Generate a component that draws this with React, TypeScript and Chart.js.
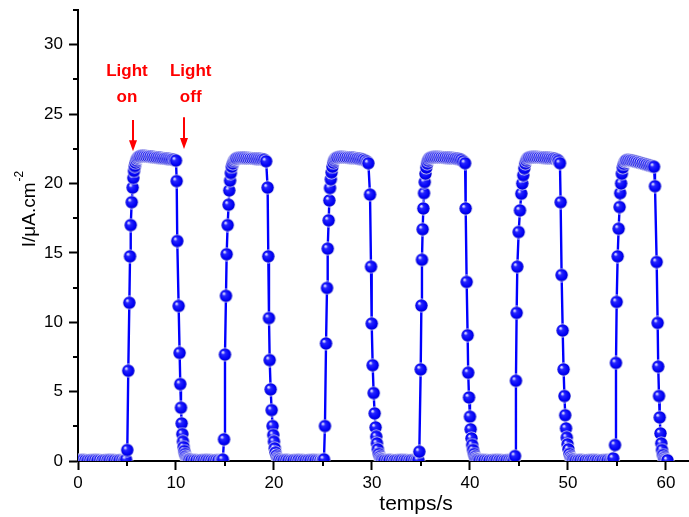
import { useEffect, useRef } from 'react';
import { Chart, registerables } from 'chart.js';

Chart.register(...registerables);

// Axis ranges and ticks
const xRange = [0, 62.35];
const yRange = [0, 32.5];
const xTicks = [0, 10, 20, 30, 40, 50, 60];
const xMinorTicks = [5, 15, 25, 35, 45, 55];
const yTicks = [0, 5, 10, 15, 20, 25, 30];
const yMinorTicks = [2.5, 7.5, 12.5, 17.5, 22.5, 27.5, 32.5];

// Photocurrent under chopped illumination: [time (s), current (µA/cm²)]
const cycle1: number[][] = [
  [0, 0.05], [0.25, 0.05], [0.5, 0.06], [0.75, 0.05], [1, 0.04], [1.25, 0.05], [1.5, 0.05], [1.75, 0.06],
  [2, 0.05], [2.25, 0.05], [2.5, 0.04], [2.75, 0.05], [3, 0.05], [3.25, 0.06], [3.5, 0.05], [3.75, 0.05],
  [4, 0.04], [4.25, 0.05], [4.5, 0.05], [4.75, 0.06],
  [4.9, 0.1], [5.03, 0.79], [5.13, 6.5], [5.24, 11.4], [5.31, 14.75], [5.38, 17.0], [5.48, 18.65], [5.58, 19.7],
  [5.65, 20.4], [5.72, 20.9], [5.8, 21.25], [5.88, 21.5], [5.96, 21.68], [6.05, 21.8], [6.14, 21.88], [6.24, 21.94],
  [6.4, 21.97], [6.6, 21.98], [6.8, 21.97], [7.0, 21.96], [7.2, 21.94], [7.4, 21.93], [7.6, 21.91], [7.8, 21.89],
  [8.0, 21.87], [8.2, 21.86], [8.4, 21.84], [8.6, 21.82], [8.8, 21.8], [9.0, 21.79], [9.2, 21.77], [9.4, 21.75],
  [9.6, 21.73], [9.8, 21.7], [10.0, 21.65],
  [10.07, 20.17], [10.13, 15.85], [10.27, 11.17], [10.37, 7.79], [10.44, 5.54], [10.51, 3.84], [10.58, 2.71],
  [10.65, 1.94], [10.71, 1.39], [10.78, 1.0], [10.85, 0.72], [10.92, 0.5], [11.0, 0.34], [11.1, 0.22],
  [11.2, 0.15], [11.3, 0.1], [11.4, 0.08],
];

const cycle2: number[][] = [
  [11.6, 0.06], [11.85, 0.05], [12.1, 0.05], [12.35, 0.04], [12.6, 0.05], [12.85, 0.05], [13.1, 0.06],
  [13.35, 0.05], [13.6, 0.05], [13.85, 0.04], [14.1, 0.05], [14.35, 0.05], [14.6, 0.06],
  [14.78, 0.1], [14.9, 1.56], [15.0, 7.67], [15.1, 11.9], [15.17, 14.9], [15.27, 17.0], [15.37, 18.47],
  [15.44, 19.5], [15.52, 20.2], [15.6, 20.75], [15.7, 21.2], [15.8, 21.45], [15.9, 21.62], [16.0, 21.72],
  [16.1, 21.78], [16.2, 21.82],
  [16.4, 21.84], [16.6, 21.85], [16.8, 21.85], [17.0, 21.84], [17.2, 21.83], [17.4, 21.82], [17.6, 21.81],
  [17.8, 21.8], [18.0, 21.79], [18.2, 21.78], [18.4, 21.77], [18.6, 21.76], [18.8, 21.74], [19.0, 21.71],
  [19.2, 21.6],
  [19.35, 19.7], [19.42, 14.75], [19.49, 10.3], [19.56, 7.27], [19.66, 5.16], [19.76, 3.67], [19.86, 2.52],
  [19.93, 1.87], [20.0, 1.39], [20.08, 0.91], [20.16, 0.6], [20.25, 0.38], [20.35, 0.22], [20.45, 0.14],
  [20.55, 0.09],
];

const cycle3: number[][] = [
  [20.75, 0.05], [21.0, 0.05], [21.25, 0.06], [21.5, 0.05], [21.75, 0.04], [22.0, 0.05], [22.25, 0.05],
  [22.5, 0.06], [22.75, 0.05], [23.0, 0.05], [23.25, 0.04], [23.5, 0.05], [23.75, 0.05], [24.0, 0.06],
  [24.25, 0.05], [24.5, 0.05], [24.75, 0.05], [24.95, 0.06],
  [25.1, 0.12], [25.2, 2.52], [25.31, 8.47], [25.41, 12.47], [25.48, 15.3], [25.58, 17.34], [25.65, 18.78],
  [25.72, 19.67], [25.8, 20.3], [25.88, 20.8], [25.97, 21.2], [26.06, 21.5], [26.15, 21.68], [26.25, 21.78],
  [26.35, 21.84],
  [26.5, 21.88], [26.7, 21.9], [26.9, 21.9], [27.1, 21.89], [27.3, 21.88], [27.5, 21.87], [27.7, 21.86],
  [27.9, 21.85], [28.1, 21.84], [28.3, 21.82], [28.5, 21.8], [28.7, 21.78], [28.9, 21.75], [29.1, 21.72],
  [29.3, 21.66], [29.5, 21.56], [29.63, 21.46],
  [29.8, 19.2], [29.9, 14.0], [29.97, 9.9], [30.07, 6.9], [30.17, 4.9], [30.27, 3.43], [30.37, 2.42],
  [30.44, 1.75], [30.51, 1.27], [30.6, 0.84], [30.7, 0.5], [30.8, 0.3], [30.9, 0.18], [31.0, 0.12],
  [31.12, 0.08],
];

const cycle4: number[][] = [
  [31.3, 0.05], [31.55, 0.05], [31.8, 0.06], [32.05, 0.05], [32.3, 0.04], [32.55, 0.05], [32.8, 0.05],
  [33.05, 0.06], [33.3, 0.05], [33.55, 0.05], [33.8, 0.04], [34.05, 0.05], [34.3, 0.05], [34.55, 0.06],
  [34.73, 0.07], [34.83, 0.67], [34.97, 6.6], [35.04, 11.2], [35.1, 14.5], [35.17, 16.7], [35.24, 18.2],
  [35.31, 19.3], [35.38, 20.1], [35.46, 20.7], [35.55, 21.15], [35.64, 21.45], [35.73, 21.65], [35.83, 21.78],
  [35.93, 21.84],
  [36.1, 21.88], [36.3, 21.9], [36.5, 21.9], [36.7, 21.9], [36.9, 21.89], [37.1, 21.88], [37.3, 21.87],
  [37.5, 21.86], [37.7, 21.85], [37.9, 21.84], [38.1, 21.83], [38.3, 21.82], [38.5, 21.8], [38.7, 21.78],
  [38.9, 21.75], [39.1, 21.7], [39.3, 21.6], [39.5, 21.46],
  [39.56, 18.2], [39.66, 12.9], [39.76, 9.06], [39.82, 6.36], [39.9, 4.58], [40.0, 3.19], [40.07, 2.28],
  [40.15, 1.63], [40.23, 1.15], [40.32, 0.79], [40.42, 0.5], [40.52, 0.3], [40.62, 0.18], [40.72, 0.12],
  [40.82, 0.08],
];

const cycle5: number[][] = [
  [41.0, 0.05], [41.25, 0.06], [41.5, 0.05], [41.75, 0.05], [42.0, 0.04], [42.25, 0.05], [42.5, 0.05],
  [42.75, 0.06], [43.0, 0.05], [43.25, 0.05], [43.5, 0.04], [43.75, 0.05], [44.0, 0.05], [44.25, 0.06],
  [44.45, 0.05],
  [44.6, 0.36], [44.69, 5.78], [44.76, 10.67], [44.83, 14.0], [44.97, 16.5], [45.1, 18.06], [45.24, 19.26],
  [45.34, 20.0], [45.44, 20.6], [45.55, 21.1], [45.65, 21.45], [45.75, 21.65], [45.85, 21.78], [45.95, 21.85],
  [46.1, 21.88], [46.3, 21.9], [46.5, 21.9], [46.7, 21.9], [46.9, 21.89], [47.1, 21.88], [47.3, 21.87],
  [47.5, 21.86], [47.7, 21.85], [47.9, 21.84], [48.1, 21.83], [48.3, 21.82], [48.5, 21.8], [48.7, 21.77],
  [48.9, 21.72], [49.05, 21.62], [49.18, 21.46],
  [49.25, 18.65], [49.35, 13.4], [49.46, 9.4], [49.55, 6.6], [49.64, 4.68], [49.72, 3.3], [49.8, 2.35],
  [49.88, 1.68], [49.96, 1.2], [50.05, 0.84], [50.15, 0.5], [50.25, 0.3], [50.35, 0.19], [50.45, 0.12],
  [50.6, 0.08],
];

const cycle6: number[][] = [
  [50.8, 0.05], [51.05, 0.05], [51.3, 0.06], [51.55, 0.05], [51.8, 0.04], [52.05, 0.05], [52.3, 0.05],
  [52.55, 0.06], [52.8, 0.05], [53.05, 0.05], [53.3, 0.04], [53.55, 0.05], [53.8, 0.05], [54.05, 0.06],
  [54.3, 0.05], [54.5, 0.05],
  [54.62, 0.19], [54.8, 1.15], [54.9, 7.07], [54.97, 11.46], [55.07, 14.75], [55.17, 16.74], [55.27, 18.3],
  [55.33, 19.3], [55.42, 20.0], [55.5, 20.7], [55.6, 21.15], [55.7, 21.42], [55.8, 21.58], [55.9, 21.65],
  [56.0, 21.68],
  [56.2, 21.68], [56.4, 21.66], [56.6, 21.63], [56.8, 21.6], [57.0, 21.56], [57.2, 21.52], [57.4, 21.48],
  [57.6, 21.44], [57.8, 21.4], [58.0, 21.36], [58.2, 21.32], [58.4, 21.28], [58.6, 21.24], [58.78, 21.2],
  [58.88, 19.8], [59.05, 14.34], [59.15, 9.95], [59.21, 6.8], [59.29, 4.68], [59.36, 3.14], [59.44, 1.99],
  [59.52, 1.27], [59.6, 0.79], [59.7, 0.43], [59.8, 0.22], [59.9, 0.12], [60.02, 0.07], [60.15, 0.05],
];

// "Light on" / "Light off" annotations
const noteLines = [['Light', 'on'], ['Light', 'off']];
const noteTextTimes = [5.0, 11.5];
const noteTextLevels = [27.74, 25.86];
const arrowTimes = [5.61, 10.82];
const arrowTails = [24.57, 24.78];
const arrowTips = [22.33, 22.48];

const FONT = '"Liberation Sans", Arial, Helvetica, sans-serif';

// Shaded ball marker
function makeSphere(r: number): HTMLCanvasElement {
  const size = Math.ceil(2 * r + 2);
  const c = document.createElement('canvas');
  c.width = size;
  c.height = size;
  const g = c.getContext('2d')!;
  const cx = size / 2;
  const cy = size / 2;
  g.beginPath();
  g.arc(cx, cy, r + 0.8, 0, Math.PI * 2);
  g.fillStyle = 'rgba(255,255,255,0.85)';
  g.fill();
  const grad = g.createRadialGradient(cx - r * 0.4, cy - r * 0.42, 0, cx, cy, r);
  grad.addColorStop(0, '#ffffff');
  grad.addColorStop(0.13, '#c8c8ff');
  grad.addColorStop(0.32, '#2626ff');
  grad.addColorStop(0.82, '#0000f4');
  grad.addColorStop(1, '#0000c4');
  g.beginPath();
  g.arc(cx, cy, r, 0, Math.PI * 2);
  g.fillStyle = grad;
  g.fill();
  return c;
}

const overlay = {
  id: 'overlay',
  afterDraw(chart: any) {
    const { ctx, scales } = chart;
    const x = scales.x;
    const y = scales.y;
    ctx.save();

    // minor ticks
    ctx.strokeStyle = '#000';
    ctx.lineWidth = 2;
    ctx.beginPath();
    xMinorTicks.forEach((v) => {
      const px = Math.round(x.getPixelForValue(v));
      ctx.moveTo(px, y.bottom);
      ctx.lineTo(px, y.bottom + 5);
    });
    yMinorTicks.forEach((v) => {
      const py = Math.round(y.getPixelForValue(v));
      ctx.moveTo(x.left - 5, py);
      ctx.lineTo(x.left, py);
    });
    ctx.stroke();

    // axis titles
    ctx.fillStyle = '#000';
    ctx.textBaseline = 'alphabetic';
    ctx.textAlign = 'center';
    ctx.font = `21px ${FONT}`;
    ctx.fillText('temps/s', x.getPixelForValue(34.5), y.bottom + 49);

    ctx.save();
    ctx.translate(x.left - 43, y.getPixelForValue(15.4));
    ctx.rotate(-Math.PI / 2);
    ctx.textAlign = 'left';
    ctx.font = `19px ${FONT}`;
    const main = 'I/μA.cm';
    ctx.fillText(main, 0, 0);
    const w = ctx.measureText(main).width;
    ctx.font = `12px ${FONT}`;
    ctx.fillText('-2', w + 1, -12);
    ctx.restore();

    // annotations
    ctx.fillStyle = '#ff0000';
    ctx.strokeStyle = '#ff0000';
    ctx.font = `bold 17px ${FONT}`;
    ctx.textAlign = 'center';
    noteLines.forEach((lines, i) => {
      const cx = x.getPixelForValue(noteTextTimes[i]);
      lines.forEach((s, j) => ctx.fillText(s, cx, y.getPixelForValue(noteTextLevels[j])));
      const ax = Math.round(x.getPixelForValue(arrowTimes[i]));
      const ty = y.getPixelForValue(arrowTails[i]);
      const hy = y.getPixelForValue(arrowTips[i]);
      ctx.lineWidth = 2;
      ctx.beginPath();
      ctx.moveTo(ax, ty);
      ctx.lineTo(ax, hy - 8);
      ctx.stroke();
      ctx.beginPath();
      ctx.moveTo(ax - 4, hy - 11);
      ctx.lineTo(ax + 4, hy - 11);
      ctx.lineTo(ax, hy);
      ctx.closePath();
      ctx.fill();
    });

    ctx.restore();
  },
};

export default function App() {
  const ref = useRef<HTMLCanvasElement | null>(null);

  useEffect(() => {
    const canvas = ref.current;
    if (!canvas) return;
    const points = [...cycle1, ...cycle2, ...cycle3, ...cycle4, ...cycle5, ...cycle6].map(([t, i]) => ({ x: t, y: i }));
    const sphere = makeSphere(6.2);
    const tickFont = { family: FONT, size: 17 };

    const chart = new Chart(canvas, {
      type: 'line',
      data: {
        datasets: [
          {
            data: points,
            borderColor: '#0000ff',
            borderWidth: 2.4,
            pointStyle: sphere as any,
            pointRadius: 7,
            pointHoverRadius: 7,
            tension: 0,
            clip: 0 as any,
          },
        ],
      },
      options: {
        responsive: false,
        animation: false,
        events: [],
        layout: { autoPadding: false, padding: { top: 10, right: 0, bottom: 0, left: 0 } },
        plugins: { legend: { display: false }, tooltip: { enabled: false } },
        scales: {
          x: {
            type: 'linear',
            min: xRange[0],
            max: xRange[1],
            z: 1,
            afterBuildTicks: (s: any) => {
              s.ticks = xTicks.map((value) => ({ value }));
            },
            afterFit: (s: any) => {
              s.height = 56;
              s.paddingLeft = 0;
              s.paddingRight = 0;
            },
            grid: { drawOnChartArea: false, tickLength: 9, tickWidth: 2, tickColor: '#000' },
            border: { color: '#000', width: 2 },
            ticks: { font: tickFont, color: '#000', padding: 3, maxRotation: 0, autoSkip: false },
          },
          y: {
            type: 'linear',
            min: yRange[0],
            max: yRange[1],
            z: 1,
            afterBuildTicks: (s: any) => {
              s.ticks = yTicks.map((value) => ({ value }));
            },
            afterFit: (s: any) => {
              s.width = 78;
              s.paddingTop = 0;
              s.paddingBottom = 0;
            },
            grid: { drawOnChartArea: false, tickLength: 9, tickWidth: 2, tickColor: '#000' },
            border: { color: '#000', width: 2 },
            ticks: { font: tickFont, color: '#000', padding: 6, autoSkip: false },
          },
        },
      },
      plugins: [overlay],
    });

    return () => chart.destroy();
  }, []);

  return (
    <div style={{ position: 'absolute', left: 0, top: 0, width: 689, height: 517, background: '#fff' }}>
      <canvas ref={ref} width={689} height={517} style={{ display: 'block' }} />
    </div>
  );
}
